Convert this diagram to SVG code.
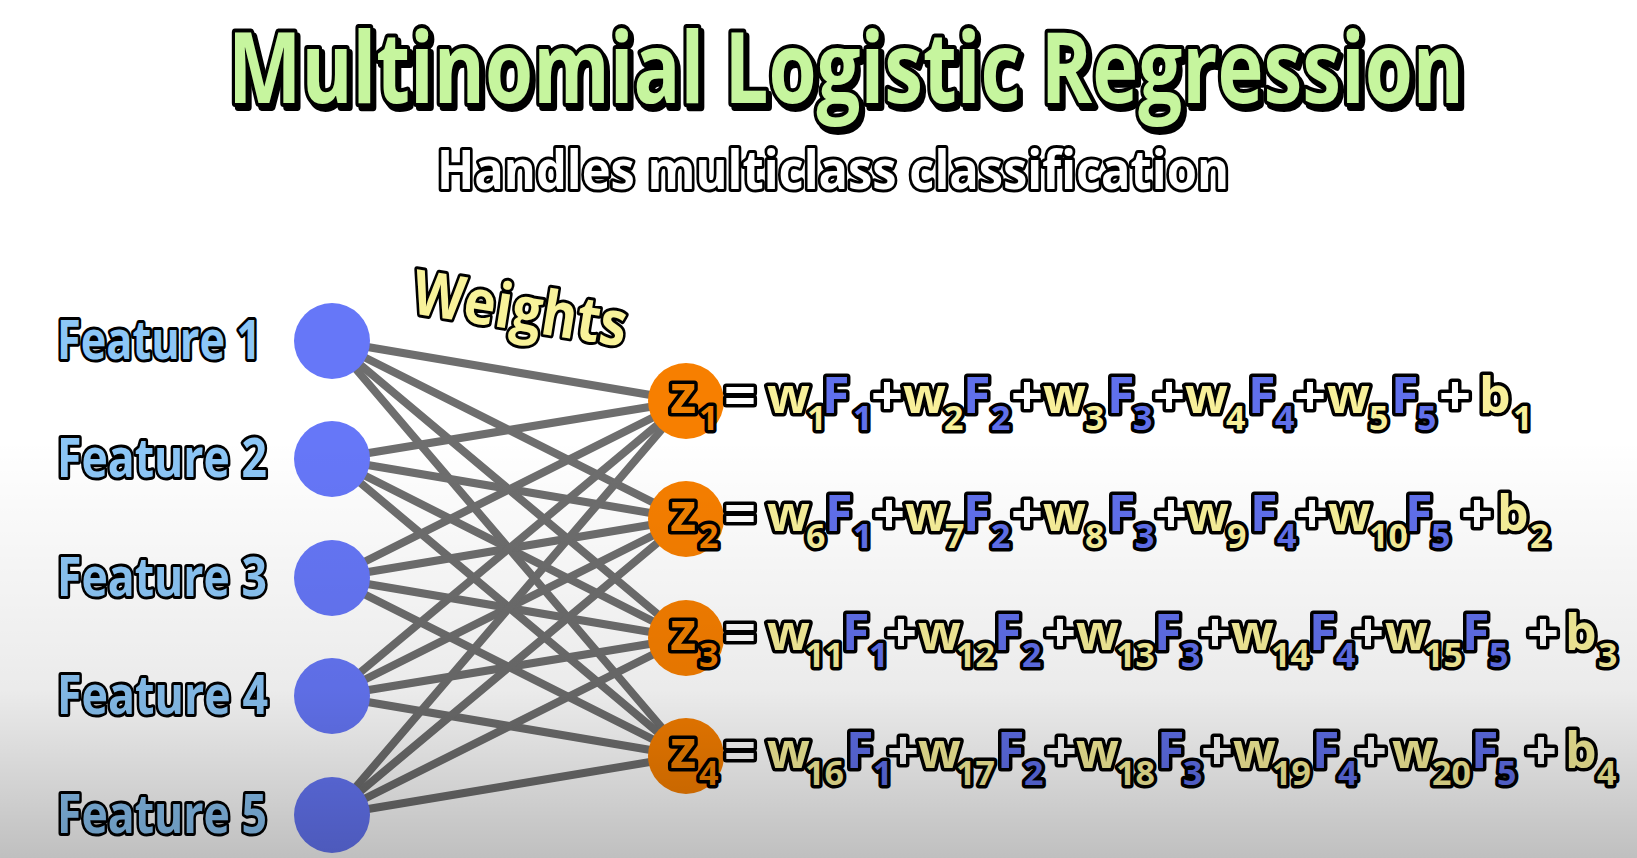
<svg xmlns="http://www.w3.org/2000/svg" width="1637" height="858" viewBox="0 0 1637 858">
<defs>
<linearGradient id="shade" gradientUnits="userSpaceOnUse" x1="0" y1="440" x2="0" y2="858">
<stop offset="0" stop-color="#000" stop-opacity="0"/>
<stop offset="0.6" stop-color="#000" stop-opacity="0.08"/>
<stop offset="1" stop-color="#000" stop-opacity="0.25"/>
</linearGradient>
<filter id="ds" x="-5%" y="-20%" width="110%" height="150%">
<feDropShadow dx="3" dy="4" stdDeviation="0.5" flood-color="#000" flood-opacity="1"/>
</filter>
<style>
.t{font-family:"Open Sans","DejaVu Sans",sans-serif;font-weight:700;stroke:#000;paint-order:stroke;stroke-linejoin:round}
.title{font-size:98px;fill:#C6F59E;stroke-width:8}
.subtitle{font-size:54px;fill:#fff;stroke-width:6}
.weights{font-size:62px;fill:#F8F29A;stroke-width:6}
.feat{font-size:53px;fill:#8CC6F6;stroke-width:6}
.eq{stroke-width:7}
.m{font-size:50px}
.zz{font-size:54px}
.o{font-size:56px}
.s{font-size:34px}
.w{fill:#F8F09A}
.F{fill:#6070EC}
.op{fill:#fff}
.z{fill:#F08000}
.in{fill:#6677F8}
.out{fill:#F77F00}
.edge{stroke:#6E6E6E;stroke-width:8;stroke-linecap:round}
</style>
</defs>
<rect x="0" y="0" width="1637" height="858" fill="#fff"/>

<g id="title">
<text class="t title" x="228" y="103" textLength="1236" lengthAdjust="spacingAndGlyphs" filter="url(#ds)">Multinomial Logistic Regression</text>
<text class="t subtitle" x="437" y="189" textLength="792" lengthAdjust="spacingAndGlyphs">Handles multiclass classification</text>
</g>

<g id="weights-label">
<text class="t weights" x="410" y="313" transform="rotate(9 410 313)" textLength="216" lengthAdjust="spacingAndGlyphs">Weights</text>
</g>

<g id="connectors">
<line class="edge" x1="332" y1="341" x2="686" y2="401"/>
<line class="edge" x1="332" y1="341" x2="686" y2="519"/>
<line class="edge" x1="332" y1="341" x2="686" y2="638"/>
<line class="edge" x1="332" y1="341" x2="686" y2="756"/>
<line class="edge" x1="332" y1="459" x2="686" y2="401"/>
<line class="edge" x1="332" y1="459" x2="686" y2="519"/>
<line class="edge" x1="332" y1="459" x2="686" y2="638"/>
<line class="edge" x1="332" y1="459" x2="686" y2="756"/>
<line class="edge" x1="332" y1="578" x2="686" y2="401"/>
<line class="edge" x1="332" y1="578" x2="686" y2="519"/>
<line class="edge" x1="332" y1="578" x2="686" y2="638"/>
<line class="edge" x1="332" y1="578" x2="686" y2="756"/>
<line class="edge" x1="332" y1="696" x2="686" y2="401"/>
<line class="edge" x1="332" y1="696" x2="686" y2="519"/>
<line class="edge" x1="332" y1="696" x2="686" y2="638"/>
<line class="edge" x1="332" y1="696" x2="686" y2="756"/>
<line class="edge" x1="332" y1="815" x2="686" y2="401"/>
<line class="edge" x1="332" y1="815" x2="686" y2="519"/>
<line class="edge" x1="332" y1="815" x2="686" y2="638"/>
<line class="edge" x1="332" y1="815" x2="686" y2="756"/>
</g>

<g id="feature1"><circle class="in" cx="332" cy="341" r="38"/><text class="t feat" x="57" y="359" textLength="204" lengthAdjust="spacingAndGlyphs">Feature 1</text></g>
<g id="feature2"><circle class="in" cx="332" cy="459" r="38"/><text class="t feat" x="57" y="477" textLength="210" lengthAdjust="spacingAndGlyphs">Feature 2</text></g>
<g id="feature3"><circle class="in" cx="332" cy="578" r="38"/><text class="t feat" x="57" y="596" textLength="210" lengthAdjust="spacingAndGlyphs">Feature 3</text></g>
<g id="feature4"><circle class="in" cx="332" cy="696" r="38"/><text class="t feat" x="57" y="714" textLength="211" lengthAdjust="spacingAndGlyphs">Feature 4</text></g>
<g id="feature5"><circle class="in" cx="332" cy="815" r="38"/><text class="t feat" x="57" y="833" textLength="210" lengthAdjust="spacingAndGlyphs">Feature 5</text></g>

<g id="z1">
<circle class="out" cx="686" cy="401" r="38"/>
<text class="t eq"><tspan class="zz z" x="670" y="413">z</tspan><tspan class="s z" x="699" y="430">1</tspan><tspan class="o op" x="724" y="415">=</tspan><tspan class="m w" x="767" y="413">w</tspan><tspan class="s w" x="807" y="430">1</tspan><tspan class="m F" x="822" y="413">F</tspan><tspan class="s F" x="853" y="430">1</tspan><tspan class="o op" x="871" y="415">+</tspan><tspan class="m w" x="903" y="413">w</tspan><tspan class="s w" x="944" y="430">2</tspan><tspan class="m F" x="963" y="413">F</tspan><tspan class="s F" x="991" y="430">2</tspan><tspan class="o op" x="1011" y="415">+</tspan><tspan class="m w" x="1043" y="413">w</tspan><tspan class="s w" x="1085" y="430">3</tspan><tspan class="m F" x="1107" y="413">F</tspan><tspan class="s F" x="1133" y="430">3</tspan><tspan class="o op" x="1153" y="415">+</tspan><tspan class="m w" x="1185" y="413">w</tspan><tspan class="s w" x="1226" y="430">4</tspan><tspan class="m F" x="1248" y="413">F</tspan><tspan class="s F" x="1275" y="430">4</tspan><tspan class="o op" x="1294" y="415">+</tspan><tspan class="m w" x="1327" y="413">w</tspan><tspan class="s w" x="1369" y="430">5</tspan><tspan class="m F" x="1391" y="413">F</tspan><tspan class="s F" x="1417" y="430">5</tspan><tspan class="o op" x="1439" y="415">+</tspan><tspan class="m w" x="1479" y="413">b</tspan><tspan class="s w" x="1513" y="430">1</tspan></text>
</g>

<g id="z2">
<circle class="out" cx="686" cy="519" r="38"/>
<text class="t eq"><tspan class="zz z" x="670" y="531">z</tspan><tspan class="s z" x="699" y="548">2</tspan><tspan class="o op" x="724" y="533">=</tspan><tspan class="m w" x="767" y="531">w</tspan><tspan class="s w" x="806" y="548">6</tspan><tspan class="m F" x="825" y="531">F</tspan><tspan class="s F" x="853" y="548">1</tspan><tspan class="o op" x="873" y="533">+</tspan><tspan class="m w" x="905" y="531">w</tspan><tspan class="s w" x="945" y="548">7</tspan><tspan class="m F" x="963" y="531">F</tspan><tspan class="s F" x="991" y="548">2</tspan><tspan class="o op" x="1011" y="533">+</tspan><tspan class="m w" x="1043" y="531">w</tspan><tspan class="s w" x="1085" y="548">8</tspan><tspan class="m F" x="1108" y="531">F</tspan><tspan class="s F" x="1135" y="548">3</tspan><tspan class="o op" x="1155" y="533">+</tspan><tspan class="m w" x="1186" y="531">w</tspan><tspan class="s w" x="1227" y="548">9</tspan><tspan class="m F" x="1250" y="531">F</tspan><tspan class="s F" x="1277" y="548">4</tspan><tspan class="o op" x="1296" y="533">+</tspan><tspan class="m w" x="1328" y="531">w</tspan><tspan class="s w" x="1369" y="548">10</tspan><tspan class="m F" x="1405" y="531">F</tspan><tspan class="s F" x="1431" y="548">5</tspan><tspan class="o op" x="1461" y="533">+</tspan><tspan class="m w" x="1497" y="531">b</tspan><tspan class="s w" x="1530" y="548">2</tspan></text>
</g>

<g id="z3">
<circle class="out" cx="686" cy="638" r="38"/>
<text class="t eq"><tspan class="zz z" x="670" y="650">z</tspan><tspan class="s z" x="699" y="667">3</tspan><tspan class="o op" x="724" y="652">=</tspan><tspan class="m w" x="767" y="650">w</tspan><tspan class="s w" x="805" y="667">11</tspan><tspan class="m F" x="842" y="650">F</tspan><tspan class="s F" x="869" y="667">1</tspan><tspan class="o op" x="885" y="652">+</tspan><tspan class="m w" x="918" y="650">w</tspan><tspan class="s w" x="956" y="667">12</tspan><tspan class="m F" x="994" y="650">F</tspan><tspan class="s F" x="1022" y="667">2</tspan><tspan class="o op" x="1044" y="652">+</tspan><tspan class="m w" x="1076" y="650">w</tspan><tspan class="s w" x="1116" y="667">13</tspan><tspan class="m F" x="1154" y="650">F</tspan><tspan class="s F" x="1181" y="667">3</tspan><tspan class="o op" x="1199" y="652">+</tspan><tspan class="m w" x="1231" y="650">w</tspan><tspan class="s w" x="1271" y="667">14</tspan><tspan class="m F" x="1309" y="650">F</tspan><tspan class="s F" x="1336" y="667">4</tspan><tspan class="o op" x="1352" y="652">+</tspan><tspan class="m w" x="1385" y="650">w</tspan><tspan class="s w" x="1424" y="667">15</tspan><tspan class="m F" x="1462" y="650">F</tspan><tspan class="s F" x="1489" y="667">5</tspan><tspan class="o op" x="1527" y="652">+</tspan><tspan class="m w" x="1565" y="650">b</tspan><tspan class="s w" x="1598" y="667">3</tspan></text>
</g>

<g id="z4">
<circle class="out" cx="686" cy="756" r="38"/>
<text class="t eq"><tspan class="zz z" x="670" y="768">z</tspan><tspan class="s z" x="699" y="785">4</tspan><tspan class="o op" x="724" y="770">=</tspan><tspan class="m w" x="767" y="768">w</tspan><tspan class="s w" x="805" y="785">16</tspan><tspan class="m F" x="846" y="768">F</tspan><tspan class="s F" x="873" y="785">1</tspan><tspan class="o op" x="887" y="770">+</tspan><tspan class="m w" x="918" y="768">w</tspan><tspan class="s w" x="956" y="785">17</tspan><tspan class="m F" x="997" y="768">F</tspan><tspan class="s F" x="1024" y="785">2</tspan><tspan class="o op" x="1045" y="770">+</tspan><tspan class="m w" x="1076" y="768">w</tspan><tspan class="s w" x="1116" y="785">18</tspan><tspan class="m F" x="1157" y="768">F</tspan><tspan class="s F" x="1183" y="785">3</tspan><tspan class="o op" x="1201" y="770">+</tspan><tspan class="m w" x="1233" y="768">w</tspan><tspan class="s w" x="1272" y="785">19</tspan><tspan class="m F" x="1312" y="768">F</tspan><tspan class="s F" x="1338" y="785">4</tspan><tspan class="o op" x="1355" y="770">+</tspan><tspan class="m w" x="1392" y="768">w</tspan><tspan class="s w" x="1432" y="785">20</tspan><tspan class="m F" x="1471" y="768">F</tspan><tspan class="s F" x="1497" y="785">5</tspan><tspan class="o op" x="1525" y="770">+</tspan><tspan class="m w" x="1565" y="768">b</tspan><tspan class="s w" x="1597" y="785">4</tspan></text>
</g>

<rect x="0" y="440" width="1637" height="418" fill="url(#shade)" pointer-events="none"/>
</svg>
